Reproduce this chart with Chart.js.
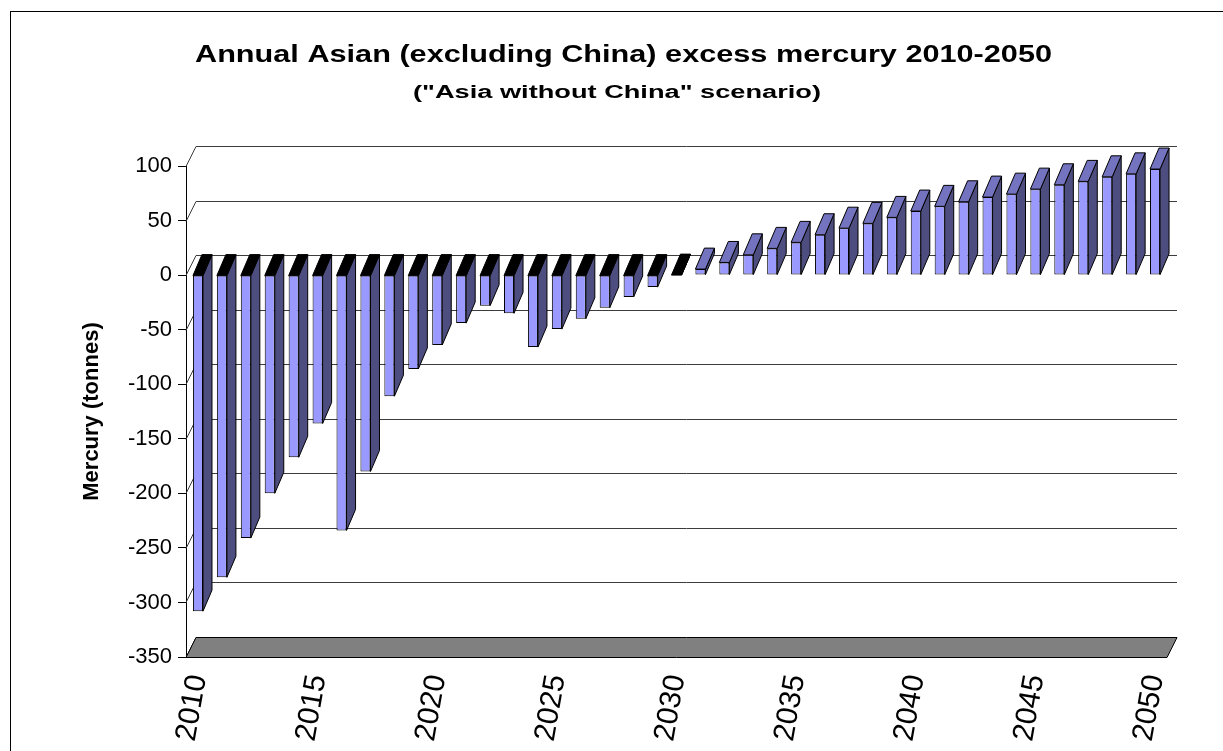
<!DOCTYPE html>
<html>
<head>
<meta charset="utf-8">
<title>Annual Asian (excluding China) excess mercury 2010-2050</title>
<script src="https://cdn.jsdelivr.net/npm/chart.js@4.4.1/dist/chart.umd.min.js"></script>
<style>
  html, body { margin: 0; padding: 0; background: #fff; }
  canvas { display: block; }
</style>
</head>
<body>
<canvas id="chart" width="1223" height="751"></canvas>
<script>
// Years on the category axis
const years = ['2010','2011','2012','2013','2014','2015','2016','2017','2018','2019',
               '2020','2021','2022','2023','2024','2025','2026','2027','2028','2029',
               '2030','2031','2032','2033','2034','2035','2036','2037','2038','2039',
               '2040','2041','2042','2043','2044','2045','2046','2047','2048','2049','2050'];

// Annual excess mercury, tonnes ("Asia without China" scenario)
const excessMercury = [-308, -277, -241, -200, -167, -136, -234, -180, -111, -86,
                       -64, -44, -28, -35, -66, -49.5, -40, -30, -20, -11,
                       0, 5.5, 11.6, 18.6, 24.5, 30, 37, 43, 47.4, 52.9,
                       58.7, 63, 67.2, 71.5, 74.2, 78.8, 82.8, 85.9, 90.1, 92.8, 97.2];

// Years that carry a label on the category axis
const labelledYears = ['2010','2015','2020','2025','2030','2035','2040','2045','2050'];

// Value axis range and step
const yMin = -350;
const yMax = 100;
const yStep = 50;

const chartTitle = 'Annual Asian (excluding China) excess mercury 2010-2050';
const chartSubtitle = '("Asia without China" scenario)';

const FONT = "'Liberation Sans', Arial, sans-serif";
const WALL = { dx: 10, dy: -20 };   // depth of the back wall / floor
const BAR = { dx: 9, dy: -21 };     // depth of each column

function poly(ctx, pts, fill) {
  ctx.beginPath();
  ctx.moveTo(pts[0][0], pts[0][1]);
  for (let i = 1; i < pts.length; i++) ctx.lineTo(pts[i][0], pts[i][1]);
  ctx.closePath();
  if (fill) { ctx.fillStyle = fill; ctx.fill(); }
  ctx.stroke();
}

// Bold heading text, widened horizontally to a given span
function wideText(ctx, text, size, cx, baseline, span) {
  ctx.save();
  ctx.font = 'bold ' + size + 'px ' + FONT;
  const w = ctx.measureText(text).width;
  ctx.translate(cx, baseline);
  ctx.scale(span / w, 1);
  ctx.fillStyle = '#000';
  ctx.textAlign = 'center';
  ctx.textBaseline = 'alphabetic';
  ctx.fillText(text, 0, 0);
  ctx.restore();
}

// Frame, headings, back wall, floor and the side/top faces of the columns
const depth3d = {
  id: 'depth3d',
  beforeDraw(chart) {
    const { ctx, width, height } = chart;
    ctx.save();
    ctx.fillStyle = '#fff';
    ctx.fillRect(0, 0, width, height);
    ctx.strokeStyle = '#000';
    ctx.lineWidth = 1;
    ctx.strokeRect(10.5, 11.5, width + 40, height + 40);
    ctx.restore();
    wideText(ctx, chartTitle, 23, 623.5, 62, 857);
    wideText(ctx, chartSubtitle, 18, 617, 98, 408);
  },
  beforeDatasetsDraw(chart) {
    const { ctx, chartArea: a, scales: { y } } = chart;
    ctx.save();
    ctx.lineWidth = 1;
    ctx.strokeStyle = '#3c3c3c';
    y.ticks.forEach(t => {
      const py = Math.round(y.getPixelForValue(t.value)) + 0.5;
      ctx.beginPath();
      ctx.moveTo(a.left, py);
      ctx.lineTo(a.left + WALL.dx, py + WALL.dy);
      if (t.value > y.min) ctx.lineTo(a.right + WALL.dx, py + WALL.dy);
      ctx.stroke();
    });
    // floor at the bottom of the value range
    const fy = Math.round(y.getPixelForValue(y.min)) + 0.5;
    ctx.strokeStyle = '#000';
    poly(ctx, [
      [a.left, fy], [a.right, fy],
      [a.right + WALL.dx, fy + WALL.dy], [a.left + WALL.dx, fy + WALL.dy]
    ], '#808080');
    ctx.restore();
  },
  afterDatasetsDraw(chart) {
    const { ctx } = chart;
    const meta = chart.getDatasetMeta(0);
    const values = chart.data.datasets[0].data;
    ctx.save();
    ctx.lineWidth = 1;
    ctx.strokeStyle = '#000';
    ctx.lineJoin = 'round';
    meta.data.forEach((bar, i) => {
      const { x, y, base, width } = bar.getProps(['x', 'y', 'base', 'width'], true);
      const left = x - width / 2, right = x + width / 2;
      const top = Math.min(y, base), bottom = Math.max(y, base);
      // side face
      poly(ctx, [
        [right, top], [right + BAR.dx, top + BAR.dy],
        [right + BAR.dx, bottom + BAR.dy], [right, bottom]
      ], '#4d4d80');
      // top face
      poly(ctx, [
        [left, top], [left + BAR.dx, top + BAR.dy],
        [right + BAR.dx, top + BAR.dy], [right, top]
      ], values[i] > 0 ? '#7373c0' : '#000000');
    });
    ctx.restore();
  }
};

new Chart(document.getElementById('chart'), {
  type: 'bar',
  data: {
    labels: years,
    datasets: [{
      label: 'Excess mercury',
      data: excessMercury,
      backgroundColor: '#9999ff',
      borderColor: '#000',
      borderWidth: 1,
      borderSkipped: false,
      barPercentage: 0.42,
      categoryPercentage: 1.0
    }]
  },
  options: {
    responsive: false,
    animation: false,
    events: [],
    layout: { padding: { left: 33, right: 56, top: 166, bottom: 0 } },
    plugins: {
      legend: { display: false },
      tooltip: { enabled: false },
      title: { display: false }
    },
    scales: {
      x: {
        offset: true,
        grid: { display: false },
        border: { display: false },
        ticks: {
          autoSkip: false,
          minRotation: 80,
          maxRotation: 80,
          padding: 7,
          color: '#000',
          font: { family: FONT, size: 30 },
          callback(value) {
            const lab = this.getLabelForValue(value);
            return labelledYears.includes(lab) ? lab : '';
          }
        },
        afterFit(scale) { scale.height = 94; }
      },
      y: {
        min: yMin,
        max: yMax,
        ticks: {
          stepSize: yStep,
          padding: 6,
          color: '#000',
          font: { family: FONT, size: 22 }
        },
        grid: { drawOnChartArea: false, drawTicks: true, tickLength: 8, color: '#000' },
        border: { display: true, color: '#000', width: 1 },
        title: {
          display: true,
          text: 'Mercury (tonnes)',
          color: '#000',
          font: { family: FONT, size: 22, weight: 'bold', lineHeight: 1.2 },
          padding: { top: 46, bottom: 0 }
        },
        afterFit(scale) { scale.width = 153; }
      }
    }
  },
  plugins: [depth3d]
});
</script>
</body>
</html>
